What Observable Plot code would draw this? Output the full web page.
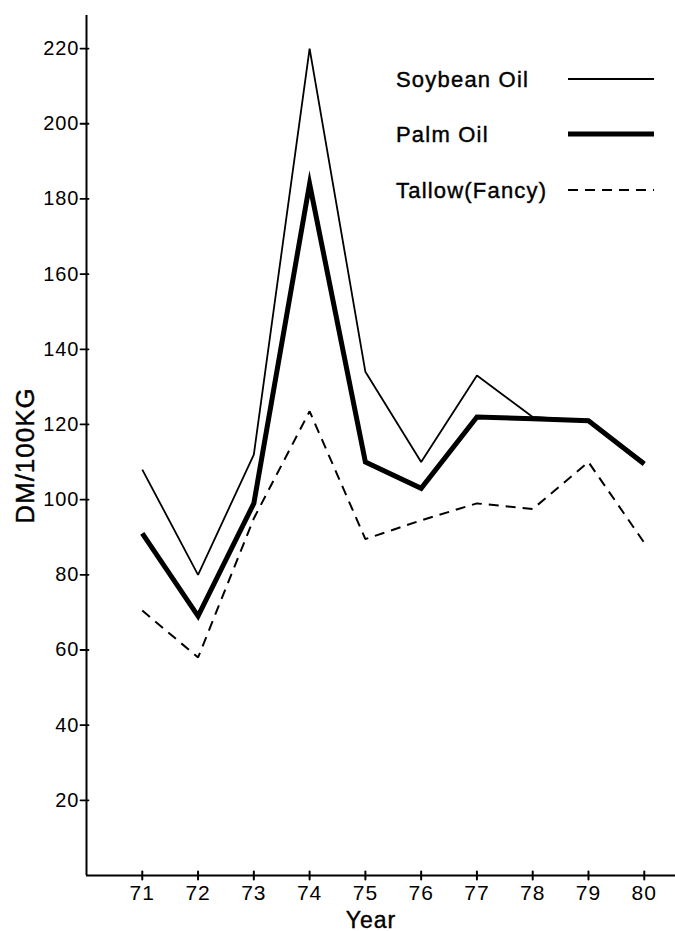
<!DOCTYPE html>
<html>
<head>
<meta charset="utf-8">
<script src="https://cdn.jsdelivr.net/npm/d3@7"></script>
<script src="https://cdn.jsdelivr.net/npm/@observablehq/plot@0.6"></script>
<style>
  html, body { margin: 0; padding: 0; background: #fff; }
  #wrap { position: relative; width: 675px; height: 931px; }
  #legend { position: absolute; left: 0; top: 0; pointer-events: none; }
  #legend text { font-family: "Liberation Sans", Arial, sans-serif; font-size: 22px; letter-spacing: 1.2px; fill: #000; stroke: #000; stroke-width: 0.4px; }
</style>
</head>
<body>
<div id="wrap"></div>
<script>
// ---- data ----
const years = [71, 72, 73, 74, 75, 76, 77, 78, 79, 80];
const soybean = [108, 80, 112, 220, 134, 110, 133, 122, 121, 110];
const palm = [91, 69, 99, 184, 110, 103, 122, 121.5, 121, 109.5];
const tallow = [70.5, 58, 95, 123.5, 89.5, 94.5, 99, 97.5, 110, 88.5];
const yTicks = [20, 40, 60, 80, 100, 120, 140, 160, 180, 200, 220];
const seriesNames = ["Soybean Oil", "Palm Oil", "Tallow(Fancy)"];
const xDomain = [70, 80.56];
const yDomain = [0, 228.8];

const rows = (name, vals) => years.map((yr, i) => ({series: name, year: yr, value: vals[i]}));
const soyRows = rows(seriesNames[0], soybean);
const palmRows = rows(seriesNames[1], palm);
const tallowRows = rows(seriesNames[2], tallow);

const tickShape = {draw(ctx, l) { ctx.moveTo(0, 0); ctx.lineTo(0, -l); }};
const textInk = {stroke: "#000", strokeWidth: 0.4, fill: "#000"};

const chart = Plot.plot({
  width: 675,
  height: 931,
  marginLeft: 86,
  marginRight: 0,
  marginTop: 15,
  marginBottom: 56,
  x: {domain: xDomain, axis: null},
  y: {domain: yDomain, axis: null},
  style: {fontFamily: "'Liberation Sans', Arial, sans-serif", background: "#fff", color: "#000", letterSpacing: "1px"},
  marks: [
    Plot.ruleX([xDomain[0]], {stroke: "#000", strokeWidth: 2}),
    Plot.ruleY([yDomain[0]], {stroke: "#000", strokeWidth: 2}),
    // y tick labels (ticks drawn separately so they cross the axis)
    Plot.axisY({ticks: yTicks, tickSize: 0, tickPadding: 7, fontSize: 20, label: null, tickFormat: d => String(d), ...textInk}),
    Plot.vector(yTicks, {x: () => xDomain[0], y: d => d, rotate: -90, length: 8, anchor: "start", dx: 2, shape: tickShape, stroke: "#000", strokeWidth: 1.8}),
    // x tick labels + crossing ticks
    Plot.axisX({ticks: years, tickSize: 0, tickPadding: 10, fontSize: 21, label: null, tickFormat: d => String(d), ...textInk}),
    Plot.vector(years, {x: d => d, y: () => yDomain[0], length: 8, anchor: "middle", shape: tickShape, stroke: "#000", strokeWidth: 2}),
    Plot.text(["Year"], {frameAnchor: "bottom", dy: 52, dx: -10, fontSize: 23, ...textInk}),
    Plot.text(["DM/100KG"], {frameAnchor: "left", textAnchor: "middle", rotate: -90, dx: -61, dy: 10, fontSize: 26, ...textInk}),
    Plot.line(tallowRows, {x: "year", y: "value", stroke: "#000", strokeWidth: 2, strokeDasharray: "10,7", strokeLinejoin: "miter", strokeLinecap: "butt"}),
    Plot.line(soyRows, {x: "year", y: "value", stroke: "#000", strokeWidth: 1.8, strokeLinejoin: "miter", strokeLinecap: "butt"}),
    Plot.line(palmRows, {x: "year", y: "value", stroke: "#000", strokeWidth: 5, strokeLinejoin: "miter", strokeMiterlimit: 6, strokeLinecap: "butt"})
  ]
});

const wrap = document.getElementById("wrap");
wrap.appendChild(chart);

// ---- legend overlay (inside plot area, as in the reference) ----
const legendStyles = [
  {width: 1.8, dash: null},
  {width: 5, dash: null},
  {width: 2, dash: "10,7"}
];
const legendRowY = [79, 134, 190];
const ns = "http://www.w3.org/2000/svg";
const lg = document.createElementNS(ns, "svg");
lg.setAttribute("id", "legend");
lg.setAttribute("width", 675);
lg.setAttribute("height", 931);
seriesNames.forEach((name, i) => {
  const t = document.createElementNS(ns, "text");
  t.setAttribute("x", 396);
  t.setAttribute("y", legendRowY[i]);
  t.setAttribute("dominant-baseline", "central");
  t.textContent = name;
  lg.appendChild(t);
  const l = document.createElementNS(ns, "line");
  l.setAttribute("x1", 568);
  l.setAttribute("x2", 654);
  l.setAttribute("y1", legendRowY[i]);
  l.setAttribute("y2", legendRowY[i]);
  l.setAttribute("stroke", "#000");
  l.setAttribute("stroke-width", legendStyles[i].width);
  if (legendStyles[i].dash) l.setAttribute("stroke-dasharray", legendStyles[i].dash);
  lg.appendChild(l);
});
wrap.appendChild(lg);
</script>
</body>
</html>
